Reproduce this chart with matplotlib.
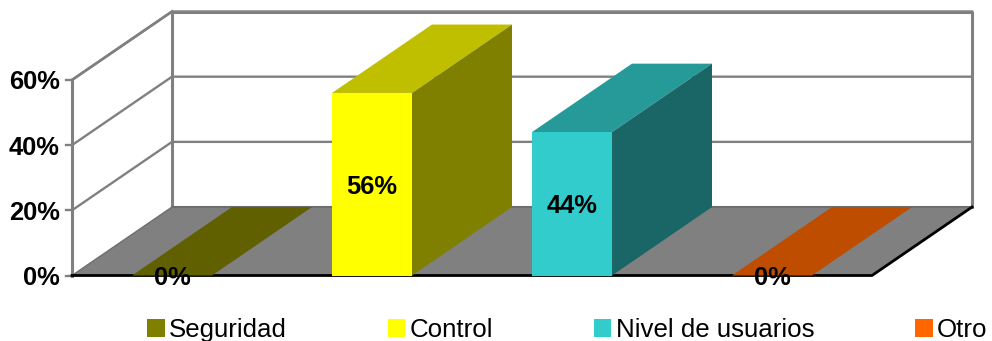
import matplotlib
matplotlib.use("Agg")
import matplotlib.pyplot as plt
from matplotlib.colors import to_rgb
from matplotlib.patches import Polygon, Patch

plt.rcParams['font.family'] = ['Liberation Sans', 'DejaVu Sans']

categorias = ['Seguridad', 'Control', 'Nivel de usuarios', 'Otro']
valores = [0, 56, 44, 0]
colores = ['#808000', '#FFFF00', '#33CCCC', '#FF6600']
ticks_y = [0, 20, 40, 60]

ANCHO_BARRA = 0.4
DEPTH_X = 0.5    # desplazamiento de la pared del fondo, en categorias
DEPTH_Y = 21     # desplazamiento de la pared del fondo, en %
GRIS = '#808080'

W, H = 992, 341
fig = plt.figure(figsize=(W / 100, H / 100), dpi=100)
# los ejes cubren el plano frontal mas la profundidad
ax = fig.add_axes([72 / W, (H - 275.5) / H, 900 / W, 264 / H])
ax.set_xlim(-0.5, 3.5 + DEPTH_X)
ax.set_ylim(0, ticks_y[-1] + DEPTH_Y)
ax.axis('off')


def sombra(color, factor):
    return tuple(c * factor for c in to_rgb(color))


def caja(x0, x1, y, color):
    # cara frontal, superior y lateral de una barra
    superior = [(x0, y), (x1, y), (x1 + DEPTH_X, y + DEPTH_Y), (x0 + DEPTH_X, y + DEPTH_Y)]
    ax.add_patch(Polygon(superior, fc=sombra(color, 0.75), ec='none', zorder=3, clip_on=False))
    if y > 0:
        lateral = [(x1, 0), (x1 + DEPTH_X, DEPTH_Y), (x1 + DEPTH_X, y + DEPTH_Y), (x1, y)]
        ax.add_patch(Polygon(lateral, fc=sombra(color, 0.5), ec='none', zorder=3, clip_on=False))
        frente = [(x0, 0), (x1, 0), (x1, y), (x0, y)]
        ax.add_patch(Polygon(frente, fc=color, ec='none', zorder=4, clip_on=False))


x_izq = -0.5
x_der = len(categorias) - 0.5
y_max = ticks_y[-1]

# suelo
suelo = [(x_izq, 0), (x_der, 0), (x_der + DEPTH_X, DEPTH_Y), (x_izq + DEPTH_X, DEPTH_Y)]
ax.add_patch(Polygon(suelo, fc=GRIS, ec='none', zorder=1, clip_on=False))

# lineas de division en la pared lateral y del fondo
for t in ticks_y:
    if t > 0:
        ax.plot([x_izq, x_izq + DEPTH_X, x_der + DEPTH_X], [t, t + DEPTH_Y, t + DEPTH_Y],
                color=GRIS, lw=1.7, zorder=2, clip_on=False)
    ax.plot([x_izq - 0.03, x_izq], [t, t], color=GRIS, lw=1.7, zorder=2, clip_on=False)
    ax.text(x_izq - 0.06, t, f'{t}%', ha='right', va='center_baseline', fontsize=18.4,
            fontweight='bold', color='black', zorder=6)

# bordes de las paredes
ax.plot([x_izq, x_izq], [0, y_max], color=GRIS, lw=2.2, zorder=2, clip_on=False)
ax.plot([x_izq, x_izq + DEPTH_X], [y_max, y_max + DEPTH_Y], color=GRIS, lw=1.9, zorder=2, clip_on=False)
ax.plot([x_izq + DEPTH_X, x_izq + DEPTH_X, x_der + DEPTH_X, x_der + DEPTH_X],
        [DEPTH_Y, y_max + DEPTH_Y, y_max + DEPTH_Y, DEPTH_Y], color=GRIS, lw=2.2, zorder=2, clip_on=False)
ax.plot([x_izq + DEPTH_X, x_der + DEPTH_X], [DEPTH_Y, DEPTH_Y], color='#6e6e6e', lw=1.5, zorder=2, clip_on=False)
ax.plot([x_izq, x_izq + DEPTH_X], [0, DEPTH_Y], color='#6e6e6e', lw=1, zorder=2, clip_on=False)

# borde negro del suelo
ax.plot([x_izq, x_der, x_der + DEPTH_X], [0, 0, DEPTH_Y], color='black', lw=2, zorder=2.5, clip_on=False)

# barras y etiquetas
for i, (v, c) in enumerate(zip(valores, colores)):
    caja(i - ANCHO_BARRA / 2, i + ANCHO_BARRA / 2, v, c)
    ax.text(i, v / 2, f'{v}%', ha='center', va='center_baseline', fontsize=18.4,
            fontweight='bold', color='black', zorder=6)

# leyenda
handles = [Patch(fc=c, ec='none', label=n) for n, c in zip(categorias, colores)]
fig.legend(handles=handles, ncol=4, loc='lower left', bbox_to_anchor=(147 / W, -1 / H),
           frameon=False, fontsize=18.6, handlelength=0.68, handleheight=0.68,
           handletextpad=0.18, columnspacing=3.89, borderpad=0, borderaxespad=0)

fig.savefig('out.png', dpi=100)
